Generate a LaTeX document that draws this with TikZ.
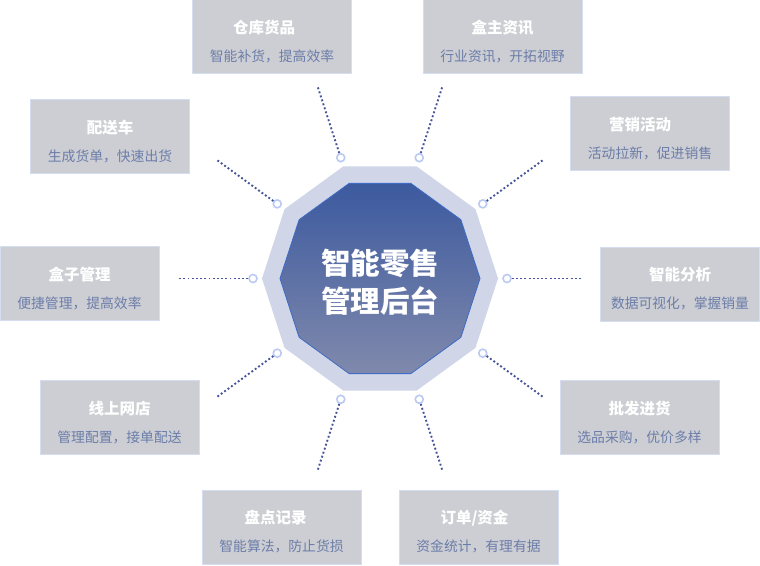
\documentclass[tikz,border=0pt]{standalone}
\usepackage{fontspec}
\setmainfont{Noto Sans CJK SC}
\usepackage{tikz}
\usetikzlibrary{calc,positioning}
\definecolor{ringc}{HTML}{D0D5E8}
\definecolor{topc}{HTML}{3C5A9F}
\definecolor{botc}{HTML}{8089AC}
\definecolor{rimc}{HTML}{3F6CC4}
\definecolor{cardc}{HTML}{CDCED3}
\definecolor{edgec}{HTML}{D4DDF1}
\definecolor{subc}{HTML}{6B7DA9}
\definecolor{dotc}{HTML}{45559A}
\definecolor{pinc}{HTML}{BACAF2}
\tikzset{
  card/.style={draw=edgec,line width=1pt,fill=cardc,minimum width=159pt,minimum height=74pt,inner sep=0pt},
  ttl/.style={text=white,font=\fontsize{15.5}{18}\selectfont\bfseries},
  sub/.style={text=subc,font=\fontsize{13.8}{16}\selectfont},
  pin/.style={circle,draw=pinc,line width=1.6pt,fill=white,minimum size=8pt,inner sep=0pt},
  dots/.style={dotc,line width=1.9pt,dash pattern=on 1.9pt off 2.3pt}
}
\newcommand{\cardtxt}[4]{\node[ttl] (#1t) at ([xshift=#4]#1.north) [yshift=-28pt] {#2};
  \node[sub] (#1s) at ([yshift=-56.5pt]#1.north) {#3};}

\begin{document}
\begin{tikzpicture}[x=1pt,y=1pt]
\useasboundingbox (0,0) rectangle (760,565);
\coordinate (ctr) at (380,286.5);
% centre ring
\fill[ringc] ($(ctr)+(0:118)$) \foreach \a in {36,72,...,324}{ -- ($(ctr)+(\a:118)$)} -- cycle;
\shade[top color=topc,bottom color=botc] ($(ctr)+(0:100)$) \foreach \a in {36,72,...,324}{ -- ($(ctr)+(\a:100)$)} -- cycle;
\draw[rimc,line width=0.8pt] ($(ctr)+(0:100)$) \foreach \a in {36,72,...,324}{ -- ($(ctr)+(\a:100)$)} -- cycle;
\node[text=white,font=\fontsize{29.5}{38}\selectfont\bfseries,align=center] (core) at (380,283) {智能零售\\管理后台};
% cards
\node[card] (c1) at (272,528) {};
\node[card] (c2) at (502.5,528) {};
\node[card] (c3) at (110,428) {};
\node[card] (c4) at (650,431) {};
\node[card] (c5) at (79.5,281) {};
\node[card] (c6) at (680,280.5) {};
\node[card] (c7) at (119.5,147) {};
\node[card] (c8) at (639.5,147) {};
\node[card] (c9) at (281.5,37.5) {};
\node[card] (c10) at (478.5,37.5) {};
\cardtxt{c1}{仓库货品}{智能补货，提高效率}{-8pt}
\cardtxt{c2}{盒主资讯}{行业资讯，开拓视野}{0pt}
\cardtxt{c3}{配送车}{生成货单，快速出货}{0pt}
\cardtxt{c4}{营销活动}{活动拉新，促进销售}{-10pt}
\cardtxt{c5}{盒子管理}{便捷管理，提高效率}{0pt}
\cardtxt{c6}{智能分析}{数据可视化，掌握销量}{0pt}
\cardtxt{c7}{线上网店}{管理配置，接单配送}{0pt}
\cardtxt{c8}{批发进货}{选品采购，优价多样}{0pt}
\cardtxt{c9}{盘点记录}{智能算法，防止货损}{-6pt}
\cardtxt{c10}{订单/资金}{资金统计，有理有据}{-4pt}
% pins and dotted spokes
\foreach \a/\n in {108/1,72/2,144/3,36/4,180/5,0/6,216/7,324/8,252/9,288/10}{
  \node[pin] (p\n) at ($(ctr)+(\a:127)$) {};
  \coordinate (q\n) at ($(ctr)+(\a:201)$);
  \draw[dots] (p\n) -- (q\n);
}
\end{tikzpicture}
\end{document}
